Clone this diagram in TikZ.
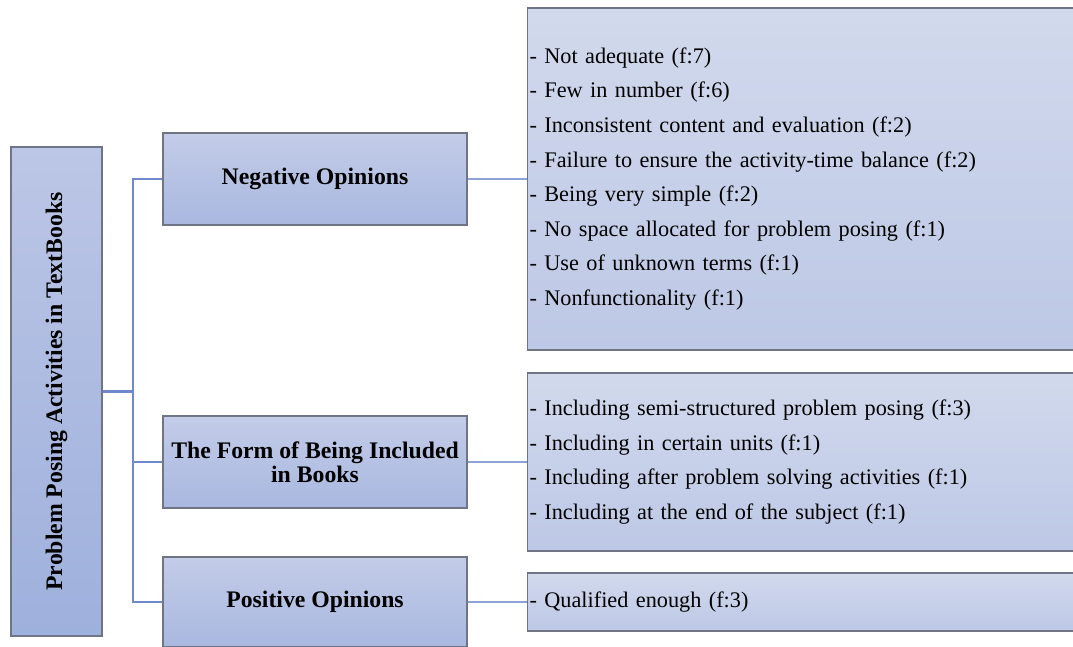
\documentclass[tikz,border=0pt]{standalone}
\usepackage{fontspec}
\setmainfont{Liberation Serif}
\definecolor{edgegray}{HTML}{707585}
\definecolor{linkblue}{HTML}{8EA2D8}
\definecolor{trunkblue}{HTML}{7088CE}
\definecolor{rootTop}{HTML}{BCC6E6}
\definecolor{rootBot}{HTML}{9EB0DC}
\definecolor{catTop}{HTML}{C3CCE8}
\definecolor{catBot}{HTML}{A9B8E0}
\definecolor{listTop}{HTML}{D1D9EC}
\definecolor{listBot}{HTML}{BDC8E6}
\tikzset{
  boxbase/.style={draw=edgegray, line width=0.8pt, inner sep=0pt},
  rootbox/.style={boxbase, top color=rootTop, bottom color=rootBot,
    minimum width=68.25pt, minimum height=366.75pt,
    font=\fontsize{17.8}{21}\selectfont\bfseries},
  catbox/.style={boxbase, top color=catTop, bottom color=catBot,
    minimum width=228pt, minimum height=69pt, align=center,
    font=\fontsize{17.8}{21}\selectfont\bfseries},
  listbox/.style={boxbase, top color=listTop, bottom color=listBot,
    minimum width=414.75pt, text width=411.75pt, inner xsep=1.5pt,
    align=left, anchor=west, font=\fontsize{16.7}{25.95}\selectfont},
  link/.style={draw=linkblue, line width=2pt},
  trunk/.style={draw=trunkblue, line width=2pt}
}
\begin{document}
\begin{tikzpicture}[x=0.75pt,y=0.75pt]
  \clip (0,0) rectangle (1073,646);
  \fill[white] (0,0) rectangle (1073,646);

  % root of the tree
  \node[rootbox] (root) at (56.5,254.5)
    {\rotatebox{90}{Problem Posing Activities in TextBooks}};

  % three categories
  \node[catbox] (neg)  at (315,467) {Negative Opinions};
  \node[catbox] (form) at (315,184) {The Form of Being Included\\[-3pt]in Books};
  \node[catbox, minimum height=67.5pt] (pos) at (315,44) {Positive Opinions};

  % item lists
  \node[listbox, minimum height=256.5pt] (neglist) at (527,467) {%
    - Not adequate (f:7)\\
    - Few in number (f:6)\\
    - Inconsistent content and evaluation (f:2)\\
    - Failure to ensure the activity-time balance (f:2)\\
    - Being very simple (f:2)\\
    - No space allocated for problem posing (f:1)\\
    - Use of unknown terms (f:1)\\
    - Nonfunctionality (f:1)};
  \node[listbox, minimum height=133.5pt] (formlist) at (527,184) {%
    - Including semi-structured problem posing (f:3)\\
    - Including in certain units (f:1)\\
    - Including after problem solving activities (f:1)\\
    - Including at the end of the subject (f:1)};
  \node[listbox, minimum height=43.5pt] (poslist) at (527,44) {%
    - Qualified enough (f:3)};

  % tree connectors
  \coordinate (tk) at (133,0);
  \draw[trunk] (neg.west) -- (neg.west -| tk) |- (pos.west);
  \draw[trunk] (form.west) -- (form.west -| tk);
  \draw[trunk] (root.east) -- (root.east -| tk);

  \draw[link] (neg.east) -- (neglist.west);
  \draw[link] (form.east) -- (formlist.west);
  \draw[link] (pos.east) -- (poslist.west);
\end{tikzpicture}
\end{document}
